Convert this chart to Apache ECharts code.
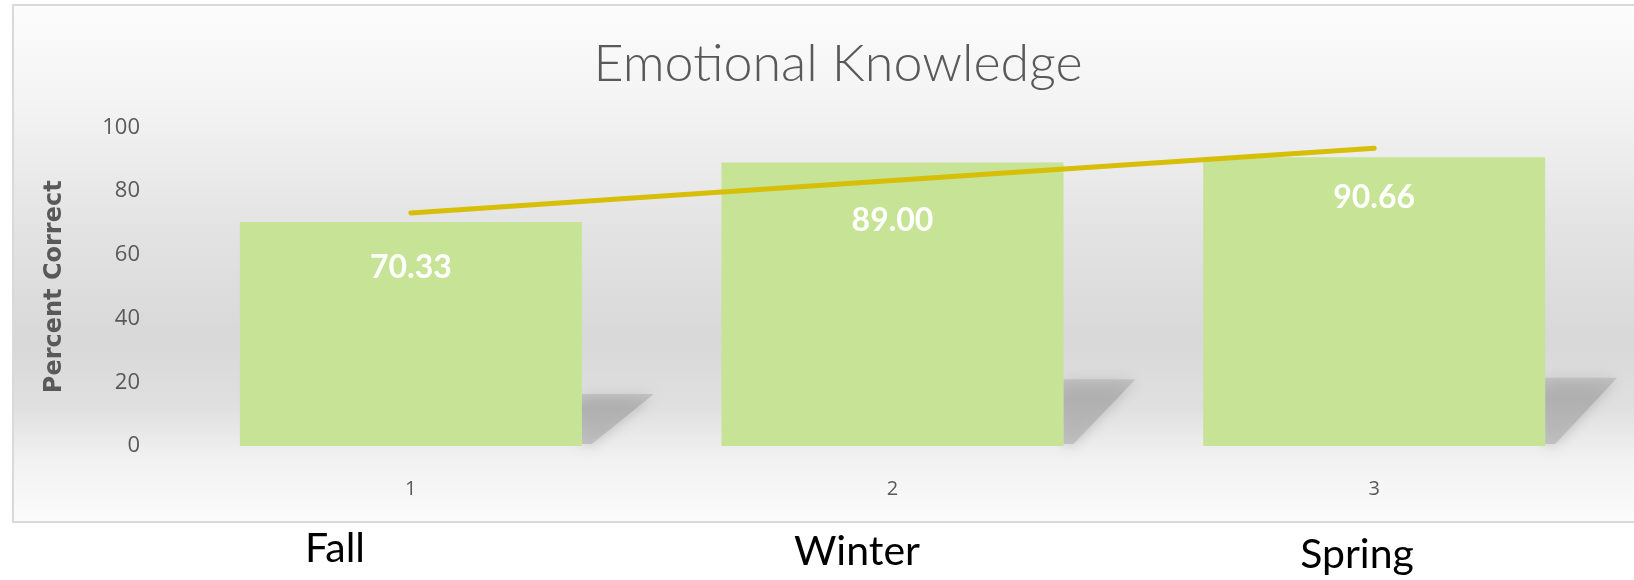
<!DOCTYPE html>
<html>
<head>
<meta charset="utf-8">
<script src="https://cdn.jsdelivr.net/npm/echarts@6/dist/echarts.min.js"></script>
<style>
  html, body { margin: 0; padding: 0; background: #fff; }
  #main { width: 1634px; height: 580px; }
</style>
</head>
<body>
<div id="main"></div>
<script>
// data
var categories = ['1', '2', '3'];
var seasons = ['Fall', 'Winter', 'Spring'];
var scores = [70.33, 89.00, 90.66];
var trend = [73.17, 83.33, 93.5];   // excel linear trendline
var yTicks = [0, 20, 40, 60, 80, 100];

// layout bits (not data)
var seasonX = [335, 857, 1357];
var labelGap = [30, 42, 24];

var myChart = echarts.init(document.getElementById('main'));

var option = {
    animation: false,
    title: {
        text: 'Emotional Knowledge',
        left: 833,
        textAlign: 'center',
        top: 33,
        textStyle: {
            fontFamily: 'Lato',
            fontWeight: 300,
            fontSize: 52,
            color: '#595959'
        }
    },
    graphic: [{
        type: 'rect',
        z: -10,
        silent: true,
        shape: { x: 13, y: 5, width: 1640, height: 517 },
        style: {
            stroke: '#d9d9d9',
            lineWidth: 2,
            fill: new echarts.graphic.LinearGradient(0, 0, 0, 1, [
                { offset: 0, color: '#fcfcfc' },
                { offset: 0.18, color: '#f4f4f4' },
                { offset: 0.45, color: '#e2e2e2' },
                { offset: 0.65, color: '#d8d8d8' },
                { offset: 0.78, color: '#e0e0e0' },
                { offset: 0.88, color: '#f2f2f2' },
                { offset: 1, color: '#fbfbfb' }
            ])
        }
    }].concat(seasons.map(function (s, i) {
        return {
            type: 'text',
            x: seasonX[i],
            y: 549 + i * 3,
            style: {
                text: s,
                fontFamily: 'Lato',
                fontSize: 41,
                fill: '#000',
                align: 'center',
                verticalAlign: 'middle'
            }
        };
    })),
    grid: {
        left: 170,
        right: 19,
        top: 127.5,
        bottom: 134
    },
    xAxis: {
        type: 'category',
        data: categories,
        axisLine: { show: false },
        axisTick: { show: false },
        axisLabel: {
            margin: 33,
            fontFamily: 'Open Sans',
            fontSize: 20,
            color: '#595959'
        }
    },
    yAxis: {
        type: 'value',
        min: yTicks[0],
        max: yTicks[yTicks.length - 1],
        interval: 20,
        splitLine: { show: false },
        axisLine: { show: false },
        axisTick: { show: false },
        axisLabel: {
            margin: 30,
            fontFamily: 'Open Sans',
            fontSize: 22,
            color: '#595959'
        },
        name: 'Percent Correct',
        nameLocation: 'middle',
        nameGap: 103,
        nameTextStyle: {
            fontFamily: 'DejaVu Sans',
            fontWeight: 'bold',
            fontSize: 24,
            color: '#595959'
        }
    },
    series: [{
        // floor shadow behind each bar
        type: 'custom',
        z: 1,
        silent: true,
        data: scores.map(function (v, i) { return [i, v]; }),
        renderItem: function (params, api) {
            var base = api.coord([api.value(0), 0]);
            var top = api.coord([api.value(0), api.value(1) * 0.25]);
            var half = api.size([1, 0])[0] * 0.71 / 2;
            var r = base[0] + half;
            return {
                type: 'polygon',
                shape: {
                    points: [[r, top[1] + 4], [r + 72, top[1] + 4], [r + 10, base[1] - 2], [r, base[1] - 2]]
                },
                style: {
                    fill: new echarts.graphic.LinearGradient(0, 0, 0, 1, [
                        { offset: 0, color: 'rgba(175,175,175,0.55)' },
                        { offset: 0.3, color: 'rgba(175,175,175,0.95)' },
                        { offset: 1, color: 'rgba(185,185,185,0.8)' }
                    ]),
                    shadowBlur: 14,
                    shadowColor: 'rgba(175,175,175,0.9)'
                }
            };
        }
    }, {
        type: 'bar',
        z: 2,
        barWidth: '71%',
        data: scores.map(function (v, i) {
            return { value: v, label: { distance: labelGap[i] } };
        }),
        itemStyle: { color: '#c7e395' },
        label: {
            show: true,
            position: 'insideTop',
            formatter: function (p) { return p.value.toFixed(2); },
            fontFamily: 'Lato',
            fontWeight: 'bold',
            fontSize: 32,
            color: '#fff'
        }
    }, {
        type: 'line',
        z: 3,
        data: trend,
        symbol: 'none',
        lineStyle: { color: '#d6bf06', width: 5, cap: 'round' }
    }]
};

myChart.setOption(option);
</script>
</body>
</html>
